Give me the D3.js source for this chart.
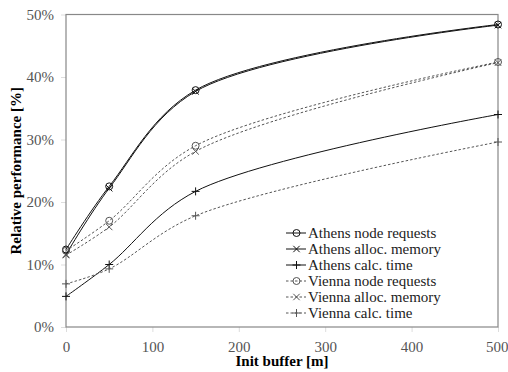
<!DOCTYPE html>
<html>
<head>
<meta charset="utf-8">
<script src="https://cdn.jsdelivr.net/npm/d3@7"></script>
<style>
  body { margin: 0; background: #fff; }
</style>
</head>
<body>
<script>
// init buffer sizes [m]
var buffers = [0, 50, 150, 500];

// relative performance [%]
var athensNodeRequests = [12.4, 22.5, 37.9, 48.4];
var athensAllocMemory  = [11.6, 22.2, 37.7, 48.3];
var athensCalcTime     = [4.9, 10.0, 21.7, 34.0];
var viennaNodeRequests = [12.2, 17.0, 29.0, 42.4];
var viennaAllocMemory  = [11.5, 16.0, 28.1, 42.3];
var viennaCalcTime     = [6.9, 9.3, 17.8, 29.6];

var seriesNames = ["Athens node requests", "Athens alloc. memory", "Athens calc. time",
                   "Vienna node requests", "Vienna alloc. memory", "Vienna calc. time"];
var xTicks = [0, 100, 200, 300, 400, 500];
var yTicks = [0, 10, 20, 30, 40, 50];

var series = [
  {name: seriesNames[0], values: athensNodeRequests, marker: "circle", dashed: false},
  {name: seriesNames[1], values: athensAllocMemory,  marker: "x",      dashed: false},
  {name: seriesNames[2], values: athensCalcTime,     marker: "plus",   dashed: false},
  {name: seriesNames[3], values: viennaNodeRequests, marker: "circle", dashed: true},
  {name: seriesNames[4], values: viennaAllocMemory,  marker: "x",      dashed: true},
  {name: seriesNames[5], values: viennaCalcTime,     marker: "plus",   dashed: true}
];

var FONT = "Liberation Serif";
var W = 508, H = 372;
var margin = {top: 14.5, right: 10, bottom: 45, left: 66};
var width = W - margin.left - margin.right,
    height = H - margin.top - margin.bottom;

var svg = d3.select("body").append("svg")
    .attr("width", W)
    .attr("height", H)
    .attr("font-family", FONT);

var g = svg.append("g")
    .attr("transform", "translate(" + margin.left + "," + margin.top + ")");

var x = d3.scaleLinear().domain([0, 500]).range([0, width]);
var y = d3.scaleLinear().domain([0, 50]).range([height, 0]);

// axes
var xAxis = g.append("g")
    .attr("transform", "translate(0," + height + ")")
    .call(d3.axisBottom(x).tickValues(xTicks).tickSize(5).tickPadding(9));
var yAxis = g.append("g")
    .call(d3.axisLeft(y).tickValues(yTicks).tickSize(5).tickPadding(7)
      .tickFormat(function(d) { return d + "%"; }));

[xAxis, yAxis].forEach(function(a) {
  a.attr("font-family", FONT).attr("font-size", 15);
  a.select(".domain").remove();
  a.selectAll(".tick line").attr("stroke", "#ddd");
  a.selectAll(".tick text")
    .attr("fill", "#555")
    .attr("font-family", FONT)
    .attr("font-size", 15);
});
// keep the last x label inside the picture
xAxis.selectAll(".tick text").filter(function(d) { return d === 500; })
    .attr("text-anchor", "end").attr("x", 10);

// frame
g.append("rect")
    .attr("x", 0).attr("y", 0)
    .attr("width", width).attr("height", height)
    .attr("fill", "none")
    .attr("stroke", "#888")
    .attr("stroke-width", 1.2);

var line = d3.line()
    .x(function(d, i) { return x(buffers[i]); })
    .y(function(d) { return y(d); })
    .curve(d3.curveCatmullRom.alpha(0.5));

function drawMarker(sel, type, cx, cy, color) {
  if (type === "circle") {
    sel.append("circle").attr("cx", cx).attr("cy", cy).attr("r", 3.5)
      .attr("fill", "none").attr("stroke", color).attr("stroke-width", 1);
  } else if (type === "x") {
    var s = 3.2;
    sel.append("path")
      .attr("d", "M" + (cx - s) + "," + (cy - s) + "L" + (cx + s) + "," + (cy + s) +
                 "M" + (cx - s) + "," + (cy + s) + "L" + (cx + s) + "," + (cy - s))
      .attr("stroke", color).attr("stroke-width", 1);
  } else {
    var p = 4;
    sel.append("path")
      .attr("d", "M" + (cx - p) + "," + cy + "L" + (cx + p) + "," + cy +
                 "M" + cx + "," + (cy - p) + "L" + cx + "," + (cy + p))
      .attr("stroke", color).attr("stroke-width", 1);
  }
}

series.forEach(function(s) {
  var color = s.dashed ? "#555" : "#111";
  g.append("path")
    .datum(s.values)
    .attr("d", line)
    .attr("fill", "none")
    .attr("stroke", color)
    .attr("stroke-width", 1)
    .attr("stroke-dasharray", s.dashed ? "2.5,2" : null);
  var mg = g.append("g");
  s.values.forEach(function(v, i) {
    drawMarker(mg, s.marker, x(buffers[i]), y(v), color);
  });
});

// legend
var legend = svg.append("g").attr("transform", "translate(286,233)");
series.forEach(function(s, i) {
  var color = s.dashed ? "#555" : "#111";
  var row = legend.append("g").attr("transform", "translate(0," + (i * 16) + ")");
  row.append("line")
    .attr("x1", 0).attr("x2", 20).attr("y1", 0).attr("y2", 0)
    .attr("stroke", color).attr("stroke-width", 1)
    .attr("stroke-dasharray", s.dashed ? "2.5,2" : null);
  drawMarker(row, s.marker, 10.5, 0, color);
  row.append("text")
    .attr("x", 22).attr("y", 0).attr("dy", "0.35em")
    .attr("fill", "#222")
    .attr("font-family", FONT)
    .attr("font-size", 15)
    .text(s.name);
});

// axis titles
svg.append("text")
    .attr("x", margin.left + width / 2).attr("y", 366)
    .attr("text-anchor", "middle")
    .attr("font-family", FONT)
    .attr("font-size", 15).attr("font-weight", "bold")
    .text("Init buffer [m]");

svg.append("text")
    .attr("transform", "translate(21," + (margin.top + height / 2) + ") rotate(-90)")
    .attr("text-anchor", "middle")
    .attr("font-family", FONT)
    .attr("font-size", 15).attr("font-weight", "bold")
    .text("Relative performance [%]");
</script>
</body>
</html>
